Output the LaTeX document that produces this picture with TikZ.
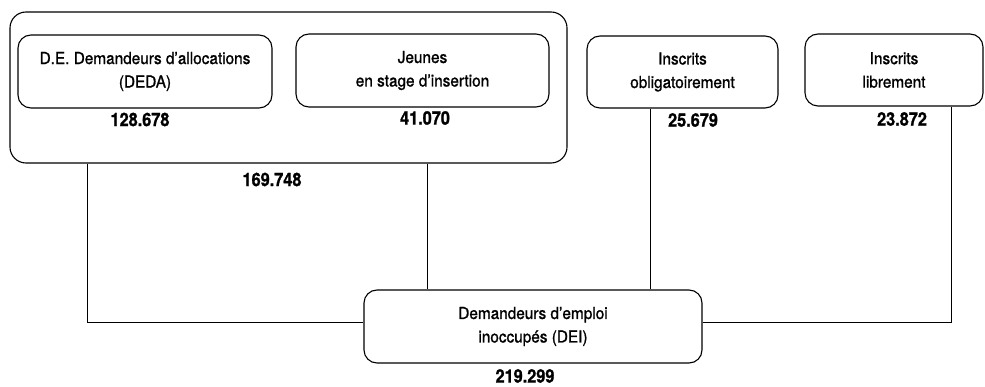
\documentclass[tikz,border=0pt]{standalone}
\usepackage{fontspec}
\setmainfont{TeX Gyre Heros}[FakeStretch=0.93,FakeBold=1.2]
\newfontfamily\numfont{TeX Gyre Heros}[FakeStretch=0.88,BoldFeatures={FakeBold=1.2}]
\begin{document}
\begin{tikzpicture}[x=1pt,y=-1pt,
  box/.style={draw,line width=1.1pt,rounded corners=13pt,minimum width=#1,inner sep=0pt,align=center,font=\fontsize{16.5}{23.5}\selectfont},
  box/.default=100pt,
  num/.style={font=\numfont\fontsize{18.5}{20}\selectfont\bfseries,inner sep=0pt},
  conn/.style={line width=0.9pt}]
\useasboundingbox (0,0) rectangle (985,387);
\node[draw,line width=1.1pt,rounded corners=16pt,minimum width=557pt,minimum height=151pt] (outer) at (288.5,87.5) {};
\node[box=254pt,minimum height=73pt] (deda) at (145,71.5) {D.E. Demandeurs d’allocations\\(DEDA)};
\node[box=253pt,minimum height=73pt] (jeunes) at (422.5,70.5) {Jeunes\\en stage d’insertion};
\node[box=191pt,minimum height=72pt] (oblig) at (682.5,72) {Inscrits\\obligatoirement};
\node[box=178pt,minimum height=72pt] (libre) at (894,70) {Inscrits\\librement};
\node[box=338pt,minimum height=73pt] (dei) at (533,326.5) {Demandeurs d’emploi\\inoccupés (DEI)};
\node[num] (n1) at (140,119.5) {128.678};
\node[num] (n2) at (425,118) {41.070};
\node[num] (n3) at (693,120) {25.679};
\node[num] (n4) at (902,119) {23.872};
\node[num] (n5) at (272,179.5) {169.748};
\node[num] (n6) at (525,376) {219.299};
\coordinate (c1) at (87,0);
\coordinate (c2) at (427,0);
\coordinate (c3) at (650,0);
\coordinate (c4) at (951,0);
\coordinate (h) at (0,322);
\draw[conn] (outer.south -| c1) -- (h -| c1) -- (h -| dei.west);
\draw[conn] (outer.south -| c2) -- (dei.north -| c2);
\draw[conn] (oblig.south -| c3) -- (dei.north -| c3);
\draw[conn] (libre.south -| c4) -- (h -| c4) -- (h -| dei.east);
\end{tikzpicture}
\end{document}
